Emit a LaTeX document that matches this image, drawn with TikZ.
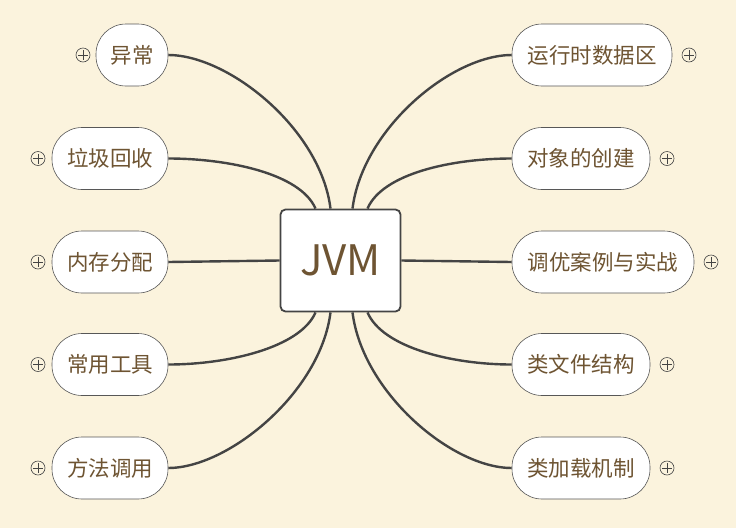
\documentclass[tikz,border=0pt]{standalone}
\usepackage{fontspec}
\setmainfont{Noto Sans CJK SC}
\definecolor{ln}{RGB}{68,68,68}
\definecolor{tx}{RGB}{110,84,50}
\begin{document}
\begin{tikzpicture}[x=1pt,y=-1pt,
  br/.style={line width=2.4pt,draw=ln},
  topic/.style={draw=ln!90,line width=0.6pt,fill=white,rounded corners=30pt,minimum height=62pt,inner sep=0pt,text=tx,font=\fontsize{21.5pt}{21.5pt}\selectfont},
  pl/.style={circle,draw=ln,line width=0.6pt,minimum size=14pt,inner sep=0pt,path picture={\draw[ln,line width=0.6pt] ([xshift=2pt]path picture bounding box.west)--([xshift=-2pt]path picture bounding box.east) ([yshift=-2pt]path picture bounding box.north)--([yshift=2pt]path picture bounding box.south);}}]
\fill[fill={rgb,255:red,251;green,243;blue,221}] (0,0) rectangle (736,528);
\useasboundingbox (0,0) rectangle (736,528);
\node[draw=ln,line width=1.8pt,fill=white,rounded corners=5pt,minimum width=120pt,minimum height=102pt,text=tx,font=\fontsize{42pt}{42pt}\selectfont] (c) at (340.5,260.5) {JVM};
% left
\node[topic,minimum width=72pt] (l1) at (132,55) {异常};
\node[topic,minimum width=116pt] (l2) at (110,158.5) {垃圾回收};
\node[topic,minimum width=116pt] (l3) at (110,262) {内存分配};
\node[topic,minimum width=116pt] (l4) at (110,364.5) {常用工具};
\node[topic,minimum width=116pt] (l5) at (110,468) {方法调用};
% right
\node[topic,minimum width=160pt] (r1) at (592,55) {运行时数据区};
\node[topic,minimum width=138pt] (r2) at (581,158.5) {对象的创建};
\node[topic,minimum width=182pt] (r3) at (603,262) {调优案例与实战};
\node[topic,minimum width=138pt] (r4) at (581,364.5) {类文件结构};
\node[topic,minimum width=138pt] (r5) at (581,468) {类加载机制};
% plus icons
\node[pl] (p1) at (83,55) {};
\node[pl] (p2) at (38,158.5) {};
\node[pl] (p3) at (38,262) {};
\node[pl] (p4) at (38,364.5) {};
\node[pl] (p5) at (38,468) {};
\node[pl] (q1) at (689,55) {};
\node[pl] (q2) at (667,158.5) {};
\node[pl] (q3) at (711,262) {};
\node[pl] (q4) at (667,364.5) {};
\node[pl] (q5) at (667,468) {};
% branches
\draw[br] ([xshift=-10pt]c.north) .. controls +(-10,-80) and +(60,0) .. (l1.east);
\draw[br] ([xshift=-25pt]c.north) .. controls +(-15,-35) and +(60,0) .. (l2.east);
\draw[br] (c.west) -- (l3.east);
\draw[br] ([xshift=-25pt]c.south) .. controls +(-15,35) and +(60,0) .. (l4.east);
\draw[br] ([xshift=-10pt]c.south) .. controls +(-10,80) and +(60,0) .. (l5.east);
\draw[br] ([xshift=12pt]c.north) .. controls +(10,-80) and +(-60,0) .. (r1.west);
\draw[br] ([xshift=27pt]c.north) .. controls +(15,-35) and +(-60,0) .. (r2.west);
\draw[br] (c.east) -- (r3.west);
\draw[br] ([xshift=27pt]c.south) .. controls +(15,35) and +(-60,0) .. (r4.west);
\draw[br] ([xshift=12pt]c.south) .. controls +(10,80) and +(-60,0) .. (r5.west);
\end{tikzpicture}
\end{document}
